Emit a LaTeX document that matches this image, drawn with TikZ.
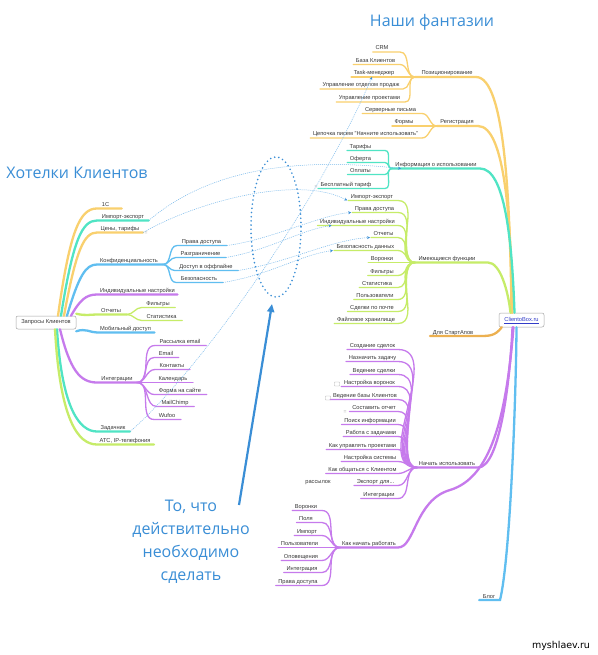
\documentclass[tikz,border=0pt]{standalone}
\usepackage{fontspec}
\setmainfont{Liberation Sans}
\newfontfamily\titlefont{Open Sans}
\newfontfamily\sitefont{DejaVu Sans}
\usetikzlibrary{arrows.meta,calc}
\definecolor{cOr}{RGB}{249,208,110}
\definecolor{cOrD}{RGB}{236,176,80}
\definecolor{cTe}{RGB}{80,228,196}
\definecolor{cGr}{RGB}{198,236,104}
\definecolor{cPu}{RGB}{198,122,236}
\definecolor{cBl}{RGB}{96,190,240}
\definecolor{cDash}{RGB}{120,185,235}
\definecolor{cTitle}{RGB}{58,142,214}
\definecolor{cText}{RGB}{55,55,55}
\definecolor{cLink}{RGB}{50,60,200}
\tikzset{
 lbl/.style={inner xsep=0.5pt, inner ysep=0.5pt, text height=4.2pt, text depth=1.3pt, font=\fontsize{5.7}{6}\selectfont, text=cText},
 sub/.style={line width=1.3pt, line cap=round},
 mainbr/.style={line width=2.3pt, line cap=round},
 link/.style={cDash, line width=0.5pt, dash pattern=on 1pt off 1pt, -{Stealth[length=3pt,width=3pt,color=cTitle]}},
 titletxt/.style={font=\titlefont\fontsize{16}{23}\selectfont, text=cTitle, align=center, inner sep=0pt},
 boxnode/.style={draw=gray!70, rounded corners=2pt, fill=white, line width=0.5pt, inner sep=1pt, text height=4.2pt, text depth=1.3pt, font=\fontsize{5.7}{6}\selectfont, text=cText},
 icon/.style={draw=gray!60, minimum width=5pt, minimum height=4pt, inner sep=0pt, rounded corners=0.5pt},
 eqmark/.style={font=\fontsize{5}{5}\selectfont, text=gray!70, inner sep=0pt}
}
% child left of its hub: name, text, cx, yu, xr, hub, color
\newcommand\RC[7]{\node[lbl,anchor=south] (#1) at (#3,#4) {#2};
 \draw[sub,#7] ([xshift=-2pt]#1.south west) -- (#5,#4) to[out=0,in=180] (#6);}
% child right of its hub: name, text, cx, yu, hub, color
\newcommand\LC[6]{\node[lbl,anchor=south] (#1) at (#3,#4) {#2};
 \draw[sub,#6] (#5) to[out=0,in=180] ([xshift=-4pt]#1.south west) -- ([xshift=5pt]#1.south east);}
\begin{document}
\begin{tikzpicture}[x=1pt,y=-1pt]
\useasboundingbox (0,0) rectangle (597,655);
\fill[white] (0,0) rectangle (597,655);

% ---------- central nodes
\node[boxnode, minimum width=45pt, minimum height=14pt, text=cLink] (cb) at (521.5,320) {\underline{ClientoBox.ru}};
\node[boxnode, minimum width=60pt, minimum height=13pt] (root) at (46,322.5) {Запросы Клиентов};

% ---------- titles
\node[titletxt] (t1) at (432,22) {Наши фантазии};
\node[titletxt] (t2) at (77,173) {Хотелки Клиентов};
\node[titletxt] (t3) at (191,542) {То, что\\действительно\\необходимо\\сделать};
\node[font=\sitefont\fontsize{9.5}{10}\selectfont, inner sep=0pt] (site) at (561,646) {myshlaev.ru};

% ================= RIGHT SIDE =================
% Позиционирование
\coordinate (hP) at (415,77);
\node[lbl,anchor=south] (pos) at (447,77) {Позиционирование};
\draw[mainbr,cOr] (hP) -- (476,77) .. controls (505,77) and (510,200) .. ([xshift=-10pt]cb.north);
\RC{p1}{CRM}{382}{52}{400}{hP}{cOr}
\RC{p2}{База Клиентов}{375.5}{64.5}{400}{hP}{cOr}
\RC{p3}{Task-менеджер}{374}{77}{403}{hP}{cOr}
\RC{p4}{Управление отделом продаж}{361}{89}{403}{hP}{cOr}
\RC{p5}{Управление проектами}{369.5}{102}{405}{hP}{cOr}

% Регистрация
\coordinate (hR) at (437,126);
\node[lbl,anchor=south] (reg) at (457,126) {Регистрация};
\draw[mainbr,cOr] (hR) -- (478,126) .. controls (505,126) and (511,220) .. ([xshift=-9pt]cb.north);
\RC{r1}{Серверные письма}{390.5}{113.5}{422}{hR}{cOr}
\RC{r2}{Формы}{404}{126}{422}{hR}{cOr}
\RC{r3}{Цепочка писем "Начните использовать"}{365.5}{138}{422}{hR}{cOr}

% Информация о использовании
\coordinate (hI) at (392,168.5);
\node[lbl,anchor=south] (inf) at (436,168.5) {Информация о использовании};
\draw[mainbr,cTe] (hI) -- (480,168.5) .. controls (505,168.5) and (512,240) .. ([xshift=-7pt]cb.north);
\RC{i1}{Тарифы}{360.5}{150.5}{385}{hI}{cTe}
\RC{i2}{Оферта}{360.5}{162.5}{385}{hI}{cTe}
\RC{i3}{Оплаты}{360.5}{174.5}{385}{hI}{cTe}
\RC{i4}{Бесплатный тариф}{346}{188.5}{385}{hI}{cTe}

% Имеющиеся функции
\coordinate (hF) at (415,262.5);
\node[lbl,anchor=south] (fun) at (447,262.5) {Имеющиеся функции};
\draw[mainbr,cGr] (hF) -- (488,262.5) .. controls (500,262.5) and (508,290) .. ([xshift=-11pt]cb.north);
\RC{f1}{Импорт-экспорт}{372}{200.5}{398}{hF}{cGr}
\RC{f2}{Права доступа}{374.5}{212.5}{398}{hF}{cGr}
\RC{f3}{Индивидуальные настройки}{357.5}{225.5}{398}{hF}{cGr}
\RC{f4}{Отчеты}{383.5}{237.5}{398}{hF}{cGr}
\RC{f5}{Безопасность данных}{365.5}{250.5}{398}{hF}{cGr}
\RC{f6}{Воронки}{382}{262.5}{398}{hF}{cGr}
\RC{f7}{Фильтры}{382}{275.5}{398}{hF}{cGr}
\RC{f8}{Статистика}{377}{287.5}{398}{hF}{cGr}
\RC{f9}{Пользователи}{375}{299.5}{398}{hF}{cGr}
\RC{f10}{Сделки по почте}{372}{311.5}{398}{hF}{cGr}
\RC{f11}{Файловое хранилище}{366}{323.5}{398}{hF}{cGr}

% Для СтартАпов
\node[lbl,anchor=south] (sta) at (453,336) {Для СтартАпов};
\draw[mainbr,cOrD] ([xshift=3pt]cb.south west) .. controls (495,336) and (490,336) .. (478,336) -- ([xshift=-2pt]sta.south west);

% Начать использовать
\coordinate (hN) at (417,467.5);
\node[lbl,anchor=south] (nac) at (447,467.5) {Начать использовать};
\draw[mainbr,cPu] (hN) -- (478,467.5) .. controls (500,467.5) and (510,380) .. ([xshift=-9pt]cb.south);
\RC{n1}{Создание сделок}{372.5}{349.5}{398}{hN}{cPu}
\RC{n2}{Назначить задачу}{372.5}{361.5}{398}{hN}{cPu}
\RC{n3}{Ведение сделки}{374}{374.5}{398}{hN}{cPu}
\RC{n4}{Настройка воронок}{369.5}{386.5}{398}{hN}{cPu}
\RC{n5}{Ведение базы Клиентов}{365}{399.5}{398}{hN}{cPu}
\RC{n6}{Составить отчет}{374}{411.5}{398}{hN}{cPu}
\RC{n7}{Поиск информации}{370}{424.5}{398}{hN}{cPu}
\RC{n8}{Работа с задачами}{371}{436.5}{398}{hN}{cPu}
\RC{n9}{Как управлять проектами}{362.5}{449.5}{398}{hN}{cPu}
\RC{n10}{Настройка системы}{370}{461.5}{398}{hN}{cPu}
\RC{n11}{Как общаться с Клиентом}{362.5}{473.5}{398}{hN}{cPu}
\RC{n12}{Экспорт для...}{375.5}{485.5}{398}{hN}{cPu}
\RC{n13}{Интеграции}{379}{498.5}{398}{hN}{cPu}
\node[lbl] (ras) at (318,482) {рассылок};

% Как начать работать
\coordinate (hK) at (340,547.5);
\node[lbl,anchor=south] (kak) at (369,547.5) {Как начать работать};
\draw[mainbr,cPu] (hK) -- (398,547.5) .. controls (415,547.5) and (415,500) .. (450,490) .. controls (490,478) and (506,420) .. ([xshift=-8pt]cb.south);
\RC{k1}{Воронки}{306}{510.5}{322}{hK}{cPu}
\RC{k2}{Поля}{306}{522.5}{322}{hK}{cPu}
\RC{k3}{Импорт}{307}{535.5}{322}{hK}{cPu}
\RC{k4}{Пользователи}{299.5}{547.5}{322}{hK}{cPu}
\RC{k5}{Оповещения}{301}{560.5}{322}{hK}{cPu}
\RC{k6}{Интеграция}{302}{572.5}{322}{hK}{cPu}
\RC{k7}{Права доступа}{298}{585.5}{322}{hK}{cPu}

% Блог
\node[lbl,anchor=south] (blog) at (489,600) {Блог};
\draw[mainbr,cBl] ([xshift=-3pt]blog.south west) -- (500,600) .. controls (510,560) and (516,400) .. ([xshift=-5pt]cb.south);

% ================= LEFT SIDE =================
\node[lbl,anchor=south] (l1) at (105.5,208.5) {1С};
\draw[mainbr,cOr] ([xshift=12pt]root.north) .. controls (70,230) and (80,208.5) .. (97,208.5) -- ([xshift=12pt]l1.south east);
\node[lbl,anchor=south] (l2) at (123,220.5) {Импорт-экспорт};
\draw[mainbr,cTe] ([xshift=15pt]root.north) .. controls (73,240) and (82,220.5) .. (97,220.5) -- ([xshift=4pt]l2.south east);
\node[lbl,anchor=south] (l3) at (120,232.5) {Цены, тарифы};
\draw[mainbr,cOr] ([xshift=18pt]root.north) .. controls (76,250) and (84,232.5) .. (97,232.5) -- ([xshift=3pt]l3.south east);
\coordinate (hC) at (163,264.5);
\node[lbl,anchor=south] (l4) at (129,264.5) {Конфиденциальность};
\draw[mainbr,cBl] ([xshift=21pt]root.north) .. controls (79,275) and (86,264.5) .. (97,264.5) -- (hC);
\LC{c1}{Права доступа}{201.5}{245.5}{hC}{cBl}
\LC{c2}{Разграничение}{200.5}{257.5}{hC}{cBl}
\LC{c3}{Доступ в оффлайне}{206}{270.5}{hC}{cBl}
\LC{c4}{Безопасность}{199}{282.5}{hC}{cBl}
\node[lbl,anchor=south] (l5) at (137.5,294.5) {Индивидуальные настройки};
\draw[mainbr,cPu] ([xshift=25pt]root.north) .. controls (80,300) and (86,294.5) .. (97,294.5) -- ([xshift=2pt]l5.south east);
\coordinate (hO) at (127,314.5);
\node[lbl,anchor=south] (l6) at (111,314.5) {Отчеты};
\draw[mainbr,cGr] ([yshift=2pt]root.north east) .. controls (86,316) and (90,314.5) .. (97,314.5) -- (hO);
\LC{o1}{Фильтры}{158}{307.5}{hO}{cGr}
\LC{o2}{Статистика}{161.5}{320.5}{hO}{cGr}
\node[lbl,anchor=south] (l7) at (125.5,332.5) {Мобильный доступ};
\draw[mainbr,cBl] ([yshift=-2pt]root.south east) .. controls (86,328) and (90,332.5) .. (97,332.5) -- ([xshift=3pt]l7.south east);
\coordinate (hIn) at (137,382.5);
\node[lbl,anchor=south] (l8) at (117,382.5) {Интеграции};
\draw[mainbr,cPu] ([xshift=14pt]root.south) .. controls (70,370) and (80,382.5) .. (97,382.5) -- (hIn);
\LC{g1}{Рассылка email}{180}{345.5}{hIn}{cPu}
\LC{g2}{Email}{166}{357.5}{hIn}{cPu}
\LC{g3}{Контакты}{172}{369.5}{hIn}{cPu}
\LC{g4}{Календарь}{173}{382.5}{hIn}{cPu}
\LC{g5}{Форма на сайте}{180}{394.5}{hIn}{cPu}
\LC{g6}{MailChimp}{175}{406.5}{hIn}{cPu}
\LC{g7}{Wufoo}{167}{419.5}{hIn}{cPu}
\node[lbl,anchor=south] (l9) at (113,431.5) {Задачник};
\draw[mainbr,cTe] ([xshift=11pt]root.south) .. controls (62,410) and (80,431.5) .. (97,431.5) -- ([xshift=4pt]l9.south east);
\node[lbl,anchor=south] (l10) at (125,444.5) {АТС, IP-телефония};
\draw[mainbr,cGr] ([xshift=9pt]root.south) .. controls (60,420) and (78,444.5) .. (97,444.5) -- ([xshift=3pt]l10.south east);

% ---------- icons
\node[eqmark] (e1) at (146,233) {=};
\node[eqmark] (e2) at (316,187) {=};
\node[eqmark] (e3) at (345,412) {=};
\node[icon] (ic1) at (337,384) {};
\node[icon] (ic2) at (328,398) {};

% ---------- dotted links
\draw[link] ([xshift=4pt]l2.south east) .. controls (220,160) and (320,160) .. ([xshift=9pt]hI);
\draw[link] ([xshift=3pt]l3.south east) .. controls (200,200) and (300,175) .. ([xshift=-3pt]f1.south west);
\draw[link] ([xshift=4pt]l9.south east) .. controls (190,380) and (310,220) .. ([xshift=-2pt]p3.south);
\draw[link] ([xshift=5pt]c1.south east) .. controls (270,240) and (320,215) .. ([xshift=-3pt]f2.south west);
\draw[link] ([xshift=5pt]c2.south east) .. controls (270,250) and (300,230) .. ([xshift=12pt]f3.south west);
\draw[link] ([xshift=5pt]c3.south east) .. controls (290,262) and (330,240) .. ([xshift=-3pt]f4.south west);
\draw[link] ([xshift=5pt]c4.south east) .. controls (270,275) and (300,255) .. ([xshift=-3pt]f5.south west);

% ---------- dotted ellipse and arrow
\draw[cTitle, line width=1.8pt, line cap=round, dash pattern=on 0pt off 4.2pt] (276,227) ellipse [x radius=25, y radius=70];
\coordinate (ba1) at (239,505);
\coordinate (ba2) at (272,304);
\draw[cTitle, line width=2.2pt, -{Triangle[length=8pt,width=7pt]}] (ba1) -- (ba2);
\end{tikzpicture}
\end{document}
